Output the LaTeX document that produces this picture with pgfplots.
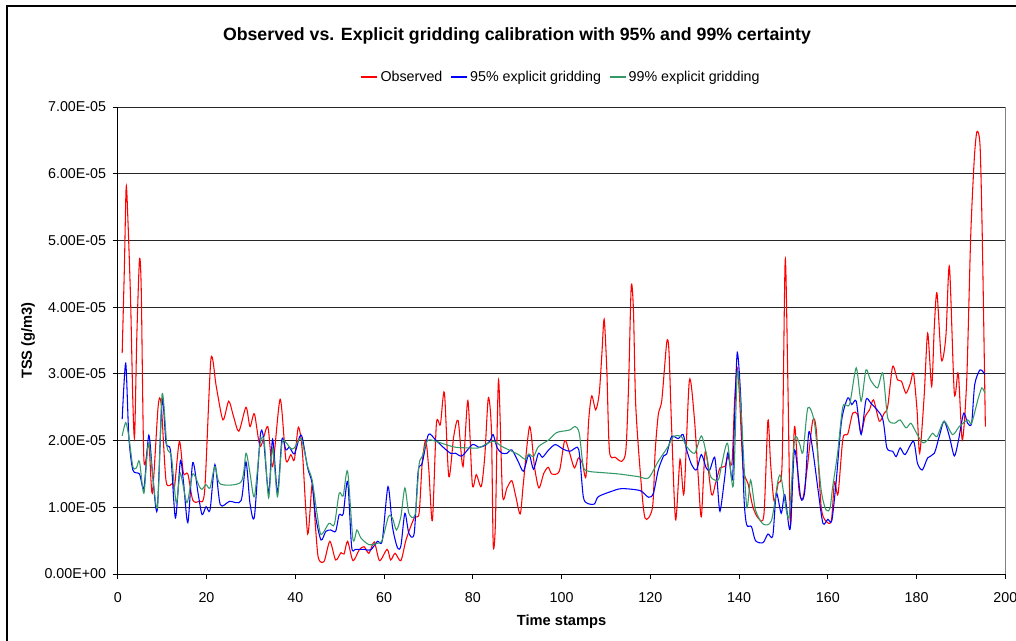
\documentclass[border=0pt]{standalone}
\usepackage{fontspec}
\setmainfont{Liberation Sans}
\usepackage{pgfplots}
\usepackage{pgfplotstable}
\pgfplotsset{compat=1.18}
\definecolor{obsred}{RGB}{255,0,0}
\definecolor{gblue}{RGB}{0,0,255}
\definecolor{ggreen}{RGB}{51,153,102}

% values in units of 1e-5 g/m3
\pgfplotstableread{
t v
1.0 3.31
1.5 4.60
1.9 5.80
2.3 5.30
2.9 4.10
3.4 2.60
3.8 2.06
4.3 3.56
4.9 4.71
5.3 4.26
5.9 1.71
7.0 1.96
7.8 1.21
9.1 2.51
9.8 2.54
10.9 1.39
12.4 1.36
12.8 1.31
13.9 1.99
14.8 1.51
15.8 1.50
16.9 1.11
18.4 1.09
19.6 1.26
21.0 3.22
22.2 2.81
23.7 2.31
25.0 2.59
26.1 2.36
27.3 2.14
28.9 2.50
29.8 2.21
30.8 2.40
32.1 1.91
33.8 2.21
34.9 1.61
36.6 2.62
37.9 1.71
39.0 1.79
39.8 1.71
40.7 2.20
41.6 1.84
42.8 0.60
43.8 1.34
44.5 0.76
45.2 0.24
46.5 0.19
47.8 0.49
49.1 0.21
50.3 0.32
51.0 0.30
51.8 0.49
53.0 0.20
54.4 0.36
55.5 0.41
56.6 0.31
57.8 0.48
59.0 0.20
60.7 0.37
61.5 0.21
62.5 0.31
63.8 0.20
65.0 0.52
66.8 0.84
67.9 0.91
68.6 1.66
69.4 2.01
70.1 1.56
70.9 0.80
71.8 2.25
72.7 2.24
73.6 2.72
74.6 1.46
75.7 2.06
76.7 2.30
77.8 1.61
78.9 2.60
79.9 1.34
80.8 1.49
81.9 1.31
82.7 1.76
83.5 2.64
84.2 2.16
84.6 0.45
85.1 0.76
85.8 2.91
86.7 1.19
87.7 1.29
88.8 1.40
89.7 1.16
90.7 0.90
91.4 1.36
92.8 2.21
93.9 1.61
94.9 1.29
96.0 1.51
97.0 1.60
97.8 1.50
99.5 1.54
100.7 2.00
101.7 1.84
102.9 1.59
103.8 1.74
104.7 1.66
105.5 1.46
106.1 2.29
106.8 2.67
107.7 2.46
108.5 2.71
109.1 3.31
109.6 3.82
110.2 3.06
110.8 1.84
112.1 1.75
113.6 1.69
114.5 1.86
115.1 2.81
115.7 4.31
116.2 3.96
116.7 2.56
117.7 1.56
118.8 0.84
120.5 1.00
121.1 1.84
121.8 2.39
122.6 2.61
123.7 3.47
124.2 3.35
124.8 2.20
125.7 0.81
126.7 1.72
127.6 1.21
128.8 2.90
129.9 2.36
130.8 1.46
131.5 0.86
132.4 1.84
133.8 1.19
134.7 1.36
135.7 1.59
136.8 1.61
137.5 1.76
138.4 1.66
139.0 2.61
139.6 3.09
140.1 2.66
140.9 1.59
142.0 1.36
143.1 1.01
144.3 0.84
145.6 0.89
146.5 2.30
147.1 1.66
147.9 1.09
148.8 1.36
149.7 1.66
150.4 4.71
151.0 2.86
151.6 0.74
152.5 2.21
153.5 1.26
154.4 1.14
155.4 1.61
156.6 2.30
157.4 2.16
158.5 1.01
159.6 0.79
160.8 0.80
161.5 1.38
162.3 1.20
163.4 2.03
164.5 2.10
165.6 2.41
166.7 2.39
167.5 2.11
168.4 2.36
169.4 2.46
170.3 2.61
171.6 2.29
172.7 2.41
173.5 2.51
174.6 3.11
175.7 2.91
176.6 2.89
177.6 2.71
178.6 2.86
179.3 3.01
180.1 2.46
180.7 1.81
181.7 2.66
182.5 3.61
183.4 2.81
184.0 3.71
184.6 4.21
185.6 3.21
186.6 3.56
187.4 4.61
188.5 2.71
189.4 3.01
190.3 2.01
191.3 2.91
192.2 5.07
193.0 6.22
193.6 6.63
194.3 6.42
194.8 5.07
195.5 2.21
}\obsdata

\pgfplotstableread{
t v
1.0 2.32
1.8 3.16
2.5 2.06
3.4 1.56
4.9 1.50
5.9 1.29
7.0 2.08
7.9 1.46
8.9 0.96
10.0 2.61
10.9 1.96
11.9 1.84
13.0 0.84
14.1 1.69
14.8 1.39
15.8 0.77
16.9 1.67
18.1 1.21
19.0 0.89
19.9 1.01
20.8 0.96
21.9 1.64
23.1 1.04
25.2 1.09
27.8 1.10
28.9 1.68
29.8 1.06
30.8 0.86
32.1 2.06
32.8 2.06
34.0 1.21
34.9 2.02
36.0 1.22
37.0 2.02
37.9 1.86
38.7 1.90
39.8 1.80
41.0 2.06
41.6 2.04
42.8 1.59
43.8 1.36
44.6 0.86
45.8 0.51
46.9 0.64
48.0 0.66
49.1 0.64
49.9 0.89
50.8 0.90
51.8 1.39
52.7 0.41
53.6 0.37
55.5 0.37
57.0 0.36
58.5 0.49
59.6 0.50
60.9 1.31
61.9 0.71
63.0 0.40
63.8 0.42
64.7 0.91
65.6 0.61
66.8 0.61
67.7 1.54
68.6 1.66
70.0 2.09
71.6 2.01
73.5 1.89
75.0 1.81
76.1 1.81
77.6 1.77
79.9 1.94
81.4 1.90
82.9 1.93
84.0 2.01
84.6 2.09
85.5 1.89
86.6 1.81
87.7 1.81
88.8 1.86
90.2 1.69
91.4 1.54
92.4 1.76
92.9 1.76
93.7 1.57
94.8 1.81
95.7 1.75
97.1 1.86
98.6 1.94
100.4 1.87
101.9 1.84
103.6 1.90
104.1 1.76
104.9 1.16
105.8 1.06
107.4 1.05
108.3 1.16
111.3 1.24
113.6 1.28
117.7 1.25
119.6 1.15
120.7 1.21
121.8 1.56
123.0 1.77
123.7 1.80
124.8 2.06
126.3 2.03
127.4 2.09
128.2 1.86
129.3 1.64
130.4 1.56
131.5 1.79
132.6 1.59
133.4 1.56
134.5 1.75
135.1 1.36
135.7 0.94
136.7 1.41
137.5 1.82
138.5 1.41
139.0 2.36
139.6 3.32
140.4 2.61
141.1 1.16
141.7 0.74
142.8 0.71
143.7 0.50
145.4 0.47
146.5 0.60
147.6 0.57
148.4 1.21
149.5 0.91
150.3 1.19
151.5 0.67
152.5 1.86
153.9 1.14
154.8 1.24
155.7 2.12
156.6 1.86
157.8 1.26
158.9 0.76
160.0 0.82
160.9 0.80
161.9 1.40
163.1 2.30
164.5 2.64
165.4 2.54
166.4 2.59
167.5 2.09
168.6 2.61
169.7 2.56
172.3 2.34
173.3 1.89
174.6 1.84
175.4 1.76
176.3 1.89
177.4 1.79
179.3 1.99
180.2 1.66
181.3 1.56
182.5 1.74
184.0 1.81
185.1 2.06
186.2 2.29
187.4 2.06
188.5 1.77
189.4 1.99
190.6 2.41
191.5 2.26
192.4 2.26
193.1 2.84
194.3 3.06
195.4 2.99
}\bluedata

\pgfplotstableread{
t v
1.0 2.07
1.8 2.27
2.5 2.06
3.4 1.61
4.2 1.59
4.9 1.69
5.9 1.21
7.0 1.96
8.9 0.99
10.0 2.70
11.1 1.91
12.1 1.76
13.2 1.06
14.1 1.51
15.6 1.07
16.9 1.50
18.4 1.31
19.0 1.27
19.9 1.34
20.8 1.29
21.9 1.61
23.1 1.35
27.8 1.38
28.9 1.81
29.8 1.51
30.8 1.16
32.1 1.96
33.0 1.99
34.0 1.14
34.9 1.89
36.0 1.16
37.0 1.96
37.9 1.97
39.0 1.88
39.8 1.89
41.3 2.03
42.8 1.61
43.8 1.41
44.9 0.91
45.8 0.59
47.6 0.76
48.8 0.74
49.9 1.21
50.8 1.17
51.8 1.54
53.0 0.52
53.9 0.66
54.8 0.54
56.6 0.44
58.5 0.46
59.6 0.51
61.0 0.86
61.9 0.84
62.8 0.66
63.8 0.86
64.7 1.29
65.6 0.91
67.0 0.89
67.9 1.64
68.6 1.76
69.8 2.00
71.6 1.99
73.9 1.94
76.1 1.90
79.1 1.89
81.3 1.89
82.8 1.94
84.7 1.99
86.6 1.91
88.8 1.84
90.3 1.79
91.8 1.72
92.6 1.80
93.7 1.76
94.8 1.91
97.1 2.01
98.9 2.12
101.2 2.15
101.9 2.16
103.1 2.21
104.0 2.11
104.9 1.61
106.1 1.54
109.1 1.52
112.8 1.50
117.3 1.46
119.6 1.44
121.8 1.69
124.0 1.91
125.2 2.06
127.0 2.06
128.2 1.91
130.0 1.81
131.5 2.07
132.6 1.81
133.6 1.46
135.3 1.41
136.0 1.61
137.4 1.96
138.7 1.32
139.6 3.01
140.4 2.51
141.7 1.02
142.6 1.41
143.7 0.96
145.4 0.75
147.3 0.80
148.8 1.41
149.5 1.44
151.2 0.84
152.5 2.01
153.6 1.96
154.4 1.82
155.5 2.49
157.0 2.26
158.5 1.26
159.6 0.96
160.5 0.99
161.1 1.31
162.2 1.81
163.4 2.51
164.9 2.54
166.4 3.09
167.5 2.59
168.6 3.06
169.6 2.91
171.2 2.79
172.4 3.01
173.5 2.34
175.0 2.26
176.3 2.31
177.6 2.19
178.7 2.26
179.6 2.16
181.3 1.97
182.5 2.01
183.6 2.11
184.6 2.06
186.2 2.29
188.1 2.09
189.6 2.21
191.5 2.31
192.4 2.26
193.8 2.61
194.7 2.79
195.4 2.71
}\greendata

\begin{document}
\begin{tikzpicture}
\useasboundingbox (0,0) rectangle (762pt,480pt);
\draw[black, line width=1.2pt] (5.25pt,-10pt) -- (5.25pt,475.5pt) -- (780pt,475.5pt);
\node[font=\bfseries\fontsize{13.3}{16}\selectfont] at (387.75pt,453pt)
  {Observed vs. Explicit gridding calibration with 95\% and 99\% certainty};
\begin{axis}[
  name=ax,
  at={(88.3pt,49.5pt)}, anchor=south west,
  scale only axis, width=665.7pt, height=350.25pt,
  xmin=0, xmax=200, ymin=0, ymax=7e-5,
  xtick={0,20,40,60,80,100,120,140,160,180,200},
  ytick={0,1e-5,2e-5,3e-5,4e-5,5e-5,6e-5,7e-5},
  yticklabels={0.00E+00,1.00E-05,2.00E-05,3.00E-05,4.00E-05,5.00E-05,6.00E-05,7.00E-05},
  scaled y ticks=false,
  axis x line*=bottom, axis y line*=left,
  axis line style={black, line width=0.75pt, -},
  tick align=outside,
  major tick length=3.75pt,
  tick style={black, line width=0.75pt},
  ymajorgrids, major grid style={black!85, line width=0.75pt},
  /pgf/number format/assume math mode=true,
  ticklabel style={font=\fontsize{10.7}{12.8}\selectfont},
  xticklabel style={yshift=-6.8pt},
  yticklabel style={xshift=-1.5pt},
  xlabel={Time stamps},
  ylabel={TSS (g/m3)},
  xlabel style={font=\bfseries\fontsize{11}{13}\selectfont, at={(axis description cs:0.5,0)}, anchor=center, yshift=-36pt},
  ylabel style={font=\bfseries\fontsize{11}{13}\selectfont, at={(axis description cs:0,0.5)}, anchor=center, yshift=67.3pt},
  legend columns=3,
  legend style={at={(0.5,1.0642)}, anchor=center, draw=none, fill=none,
    font=\fontsize{10.7}{12.8}\selectfont,
    /tikz/every even column/.append style={column sep=4pt}},
  legend image code/.code={\draw[#1] (0pt,0pt) -- (12pt,0pt);},
]
\addplot[obsred, line width=0.8pt, smooth, tension=0.45] table[x=t, y expr=\thisrow{v}*1e-5] {\obsdata};
\addlegendentry{Observed}
\addplot[gblue, line width=0.8pt, smooth, tension=0.45] table[x=t, y expr=\thisrow{v}*1e-5] {\bluedata};
\addlegendentry{95\% explicit gridding}
\addplot[ggreen, line width=0.8pt, smooth, tension=0.45] table[x=t, y expr=\thisrow{v}*1e-5] {\greendata};
\addlegendentry{99\% explicit gridding}
\end{axis}
\draw[black!50, line width=0.75pt] (ax.south east) -- (ax.north east);
\end{tikzpicture}
\end{document}
